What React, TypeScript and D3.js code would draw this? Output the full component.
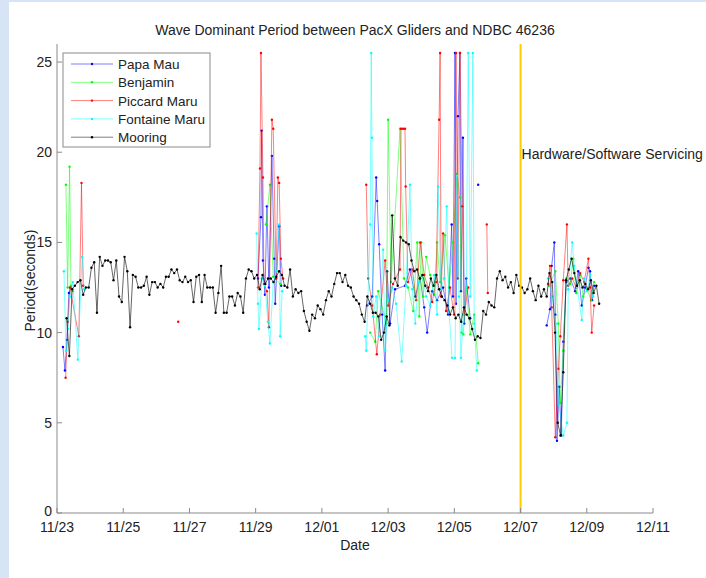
import React from 'react';
import * as d3 from 'd3';

const W = 706;
const H = 578;
const plot = { left: 57, right: 653, top: 44, bottom: 513 };

// Axis ticks: dates every two days from 11/23 (day 0) to 12/11 (day 18)
const dateTickDays = [0, 2, 4, 6, 8, 10, 12, 14, 16, 18];
const dateTickLabels = ['11/23', '11/25', '11/27', '11/29', '12/01', '12/03', '12/05', '12/07', '12/09', '12/11'];
const periodTicks = [0, 5, 10, 15, 20, 25];

// Servicing marker (day offset from 11/23 00:00)
const servicingDay = 14;
const servicingLabel = 'Hardware/Software Servicing';

// NDBC 46236 mooring: readings every 2 hours starting 11/23 07:00
const mooringStartDay = 0.29;
const mooringStepDays = 2 / 24;
const mooringValues = [
  10.8, 8.7, 12.4, 12.6, 12.8, 12.9, 12.1, 12.5, 12.5, 13.6, 13.9, 11.1,
  14.2, 13.7, 14.0, 14.0, 13.9, 12.9, 14.0, 12.0, 11.7, 14.2, 13.4, 10.3,
  13.2, 13.1, 12.5, 12.5, 12.6, 13.1, 12.1, 12.8, 12.8, 12.5, 12.7, 12.5,
  13.1, 13.1, 13.5, 13.3, 13.5, 12.9, 12.8, 13.1, 12.8, 12.9, 11.7, 13.1,
  13.2, 11.7, 13.2, 12.5, 12.5, 12.5, 11.1, 12.2, 13.7, 11.1, 11.1, 12.0,
  12.0, 11.5, 12.2, 12.0, 11.1, 13.0, 13.5, 13.4, 13.0, 13.2, 12.4, 13.2,
  12.7, 13.0, 13.0, 12.8, 13.1, 13.4, 13.2, 12.6, 12.5, 13.5, 12.0, 12.4,
  12.2, 12.3, 11.2, 10.6, 10.1, 11.0, 10.8, 11.5, 11.3, 11.0, 11.8, 12.3,
  12.0, 12.7, 13.3, 13.3, 12.8, 13.2, 12.6, 12.5, 12.0, 11.8, 11.6, 11.0,
  10.6, 12.0, 11.6, 11.1, 11.1, 10.9, 9.6, 10.0, 10.9, 10.4, 16.5, 13.0,
  12.6, 15.3, 15.1, 15.0, 14.9, 14.0, 13.4, 13.5, 13.0, 13.2, 12.6, 12.3,
  13.0, 12.6, 13.2, 12.4, 12.0, 11.8, 11.5, 11.0, 11.4, 10.8, 11.0, 10.6,
  11.4, 11.0, 10.8, 10.2, 9.6, 9.8, 9.7, 11.2, 11.0, 11.7, 11.5, 11.4,
  13.0, 13.4, 12.9, 13.1, 12.5, 12.8, 12.2, 13.2, 12.6, 12.5, 12.2, 12.4,
  13.0, 12.3, 11.8, 12.6, 12.0, 12.4, 12.0, 13.3, 12.8, 10.0, 5.0, 4.3,
  7.8, 12.9, 13.5, 14.1, 13.3, 12.6, 12.9, 12.5, 12.7, 12.4, 12.9, 12.2,
  12.6, 11.6,
];

type Pt = [number, number] | null; // [day offset, period]; null breaks the line

const papaMau: Pt[] = [
  [0.18, 9.2], [0.24, 7.9], [0.30, 9.6], [0.36, 12.2], [0.42, 12.5],
  null,
  [6.07, 13.0], [6.16, 16.4], [6.18, 21.2], [6.22, 14.0], [6.28, 12.1], [6.34, 17.0],
  [6.40, 12.5], [6.49, 19.8], [6.56, 14.1], [6.59, 11.6], [6.71, 15.9], [6.77, 12.6],
  null,
  [9.37, 11.5], [9.52, 12.0], [9.64, 18.6], [9.67, 17.3], [9.73, 14.9], [9.82, 11.0],
  [9.91, 7.9], [9.97, 13.4], [10.06, 10.5], [10.21, 12.4], [10.51, 12.6], [10.66, 13.5],
  [10.82, 12.0], [10.97, 13.0], [11.09, 11.4], [11.18, 10.0], [11.33, 12.3], [11.48, 11.8],
  [11.66, 12.5], [11.81, 11.0], [11.92, 16.0], [11.96, 12.0], [12.02, 25.5], [12.05, 11.6],
  [12.11, 22.0], [12.17, 25.5], [12.20, 12.3], [12.26, 20.8], [12.30, 10.5], [12.36, 13.0],
  [12.48, 10.8],
  null,
  [12.72, 18.2],
  null,
  [14.79, 10.4], [14.89, 11.3], [14.94, 13.7], [15.02, 15.0], [15.05, 11.0], [15.10, 4.0],
  [15.17, 7.0], [15.23, 4.3], [15.29, 9.5], [15.38, 12.8], [15.50, 13.0], [15.65, 12.3],
  [15.74, 13.4], [15.85, 11.5], [15.95, 12.5], [16.05, 13.6], [16.10, 13.4], [16.16, 11.8],
  [16.22, 12.6],
];

const benjamin: Pt[] = [
  [0.27, 18.2], [0.32, 12.5], [0.38, 19.2], [0.42, 12.6], [0.48, 12.3],
  null,
  [6.31, 16.0], [6.43, 18.2], [6.53, 13.1], [6.74, 12.7],
  null,
  [9.46, 10.0], [9.61, 9.5], [9.70, 12.3], [9.95, 10.5], [10.00, 21.8], [10.09, 12.8],
  [10.36, 21.3], [10.48, 13.0], [10.60, 12.5], [10.76, 11.2], [10.88, 15.0], [10.94, 10.9],
  [11.00, 15.0], [11.06, 12.0], [11.15, 14.2], [11.27, 13.2], [11.39, 12.1], [11.48, 15.0],
  [11.57, 12.8], [11.72, 15.4], [11.84, 12.5], [11.96, 15.0], [12.08, 18.8], [12.17, 17.5],
  [12.22, 10.0], [12.27, 9.9], [12.36, 12.5], [12.48, 9.9], [12.60, 11.0], [12.72, 8.3],
  null,
  [14.86, 12.6], [15.05, 13.4], [15.14, 10.5], [15.20, 6.1], [15.29, 9.0], [15.38, 13.0],
  [15.50, 12.7], [15.59, 14.1], [15.68, 12.2], [15.80, 13.2], [15.89, 12.0], [16.01, 12.4],
  [16.13, 11.8], [16.22, 12.8],
];

const piccardMaru: Pt[] = [
  [0.26, 7.5], [0.33, 10.6], [0.39, 12.5], [0.66, 9.8], [0.74, 18.3], [0.79, 12.6],
  null,
  [3.66, 10.6],
  null,
  [6.07, 12.5], [6.13, 19.1], [6.16, 25.5], [6.22, 18.6], [6.25, 12.7], [6.34, 12.3],
  [6.40, 10.3], [6.49, 21.8], [6.53, 21.3], [6.62, 13.0], [6.67, 18.6], [6.71, 18.3],
  [6.76, 14.1], [6.83, 13.0],
  null,
  [9.34, 18.2], [9.40, 13.0], [9.52, 11.5], [9.66, 8.8], [9.76, 11.0], [9.91, 14.0],
  [10.00, 11.5], [10.15, 12.7], [10.36, 13.5], [10.39, 21.3], [10.45, 21.3], [10.51, 21.3],
  [10.53, 18.1], [10.60, 12.8], [10.73, 13.5], [10.85, 11.8], [10.97, 15.0], [11.09, 13.2],
  [11.21, 12.5], [11.33, 11.7], [11.45, 12.8], [11.54, 21.8], [11.57, 25.5], [11.60, 12.0],
  [11.66, 15.5], [11.75, 11.2], [11.87, 12.5], [11.99, 11.0], [12.05, 25.5], [12.11, 13.0],
  [12.17, 25.5], [12.24, 17.0], [12.30, 11.0], [12.42, 12.5],
  null,
  [12.98, 16.0], [13.01, 12.2],
  null,
  [14.83, 12.7], [14.89, 13.7], [14.94, 11.4], [15.05, 4.2], [15.14, 8.0], [15.20, 9.8],
  [15.29, 12.9], [15.40, 16.0], [15.44, 12.6], [15.56, 13.0], [15.68, 12.5], [15.80, 13.3],
  [15.92, 12.8], [16.05, 14.1], [16.10, 12.5], [16.15, 10.0], [16.22, 11.5],
];

const fontaineMaru: Pt[] = [
  [0.21, 13.4], [0.27, 9.0], [0.33, 10.2], [0.39, 12.0], [0.48, 12.8], [0.63, 8.5],
  [0.76, 14.2], [0.82, 12.4],
  null,
  [6.03, 15.5], [6.07, 11.6], [6.10, 10.2], [6.19, 13.0], [6.28, 12.6], [6.37, 10.6],
  [6.43, 9.4], [6.53, 12.8], [6.62, 13.4], [6.71, 16.0], [6.74, 9.8], [6.80, 12.3],
  null,
  [9.31, 9.8], [9.34, 9.0], [9.46, 16.0], [9.49, 25.5], [9.51, 20.8], [9.55, 10.9],
  [9.64, 12.0], [9.73, 9.8], [9.85, 14.6], [9.91, 9.0], [10.00, 11.8], [10.12, 12.5],
  [10.24, 11.6], [10.41, 8.4], [10.54, 12.6], [10.66, 18.2], [10.73, 12.4], [10.82, 10.5],
  [10.91, 12.8], [11.03, 13.2], [11.15, 12.0], [11.27, 11.5], [11.39, 13.2], [11.48, 11.0],
  [11.51, 18.1], [11.60, 12.4], [11.69, 13.0], [11.77, 17.0], [11.84, 11.2], [11.93, 8.6],
  [12.02, 8.6], [12.08, 18.7], [12.14, 12.0], [12.20, 8.6], [12.27, 11.0], [12.36, 12.5],
  [12.42, 25.5], [12.48, 12.0], [12.56, 25.5], [12.60, 10.5], [12.68, 7.9],
  null,
  [14.83, 13.0], [14.95, 12.0], [15.07, 10.5], [15.16, 6.0], [15.29, 4.3], [15.40, 5.0],
  [15.44, 12.4], [15.56, 15.0], [15.62, 13.7], [15.71, 12.5], [15.85, 10.7], [15.92, 13.0],
  [16.01, 12.3], [16.10, 13.2], [16.19, 12.0],
];

const mooring: Pt[] = mooringValues.map((v, i) => [mooringStartDay + i * mooringStepDays, v]);

const seriesNames = ['Papa Mau', 'Benjamin', 'Piccard Maru', 'Fontaine Maru', 'Mooring'];
const seriesColors = ['#0000ff', '#00ff00', '#ff0000', '#00ffff', '#000000'];
const seriesData = [papaMau, benjamin, piccardMaru, fontaineMaru, mooring];

const FONT = '"Liberation Sans", Arial, sans-serif';
const TEXT = '#222222';
const AXIS = '#8a8a8a';
const FS = 14;

export default function App() {
  const x = d3.scaleLinear().domain([0, 18]).range([plot.left, plot.right]);
  const y = d3.scaleLinear().domain([0, 26]).range([plot.bottom, plot.top]);

  const line = d3
    .line<Pt>()
    .defined((p) => p !== null)
    .x((p) => x((p as [number, number])[0]))
    .y((p) => y((p as [number, number])[1]));

  const midX = (plot.left + plot.right) / 2;

  const legend = { x: 63, y: 53, w: 147, h: 94, row: 18.3, first: 64 };

  return (
    <svg
      width={W}
      height={H}
      viewBox={`0 0 ${W} ${H}`}
      style={{ position: 'absolute', left: 0, top: 0, display: 'block' }}
      fontFamily={FONT}
    >
      <rect x={0} y={0} width={W} height={H} fill="#ffffff" />
      <rect x={0} y={0} width={9} height={H} fill="#d6e4f6" />
      <rect x={0} y={0} width={W} height={2} fill="#d6e4f6" />

      {/* title */}
      <text x={midX} y={35} textAnchor="middle" fontSize={FS} fill={TEXT}>
        Wave Dominant Period between PacX Gliders and NDBC 46236
      </text>

      {/* series */}
      {seriesData.map((data, si) => (
        <g key={seriesNames[si]}>
          <path
            d={line(data) || ''}
            fill="none"
            stroke={seriesColors[si]}
            strokeOpacity={si === 4 ? 0.6 : 0.5}
            strokeWidth={1}
          />
          {data.map((p, i) =>
            p ? <circle key={i} cx={x(p[0])} cy={y(p[1])} r={1.2} fill={seriesColors[si]} /> : null
          )}
        </g>
      ))}

      {/* servicing line */}
      <line x1={x(servicingDay)} x2={x(servicingDay)} y1={plot.top} y2={plot.bottom} stroke="#ffcc00" strokeWidth={2} />
      <text x={x(servicingDay) + 1} y={159} fontSize={FS} fill={TEXT}>
        {servicingLabel}
      </text>

      {/* axes */}
      <line x1={plot.left} x2={plot.right} y1={plot.bottom} y2={plot.bottom} stroke={AXIS} strokeWidth={1} />
      <line x1={plot.left} x2={plot.left} y1={plot.top} y2={plot.bottom} stroke={AXIS} strokeWidth={1} />
      {dateTickDays.map((d, i) => (
        <g key={d}>
          <line x1={x(d)} x2={x(d)} y1={plot.bottom} y2={plot.bottom - 5} stroke={AXIS} />
          <text x={x(d)} y={plot.bottom + 19} textAnchor="middle" fontSize={FS} fill={TEXT}>
            {dateTickLabels[i]}
          </text>
        </g>
      ))}
      {periodTicks.map((t) => (
        <g key={t}>
          <line x1={plot.left} x2={plot.left + 5} y1={y(t)} y2={y(t)} stroke={AXIS} />
          <text x={plot.left - 5} y={y(t) + (t === 0 ? 3 : 5)} textAnchor="end" fontSize={FS} fill={TEXT}>
            {t}
          </text>
        </g>
      ))}
      <text x={midX} y={550} textAnchor="middle" fontSize={FS} fill={TEXT}>
        Date
      </text>
      <text
        transform={`translate(35, ${(plot.top + plot.bottom) / 2 + 2}) rotate(-90)`}
        textAnchor="middle"
        fontSize={FS}
        fill={TEXT}
      >
        Period(seconds)
      </text>

      {/* legend */}
      <rect x={legend.x} y={legend.y} width={legend.w} height={legend.h} fill="#ffffff" stroke={AXIS} strokeWidth={1} />
      {seriesNames.map((name, i) => {
        const ly = legend.first + i * legend.row;
        return (
          <g key={name}>
            <line x1={71} x2={113} y1={ly} y2={ly} stroke={seriesColors[i]} strokeOpacity={0.5} strokeWidth={1} />
            <circle cx={92} cy={ly} r={1.2} fill={seriesColors[i]} />
            <text x={118} y={ly + 5} fontSize={13.5} fill={TEXT}>
              {name}
            </text>
          </g>
        );
      })}
    </svg>
  );
}
